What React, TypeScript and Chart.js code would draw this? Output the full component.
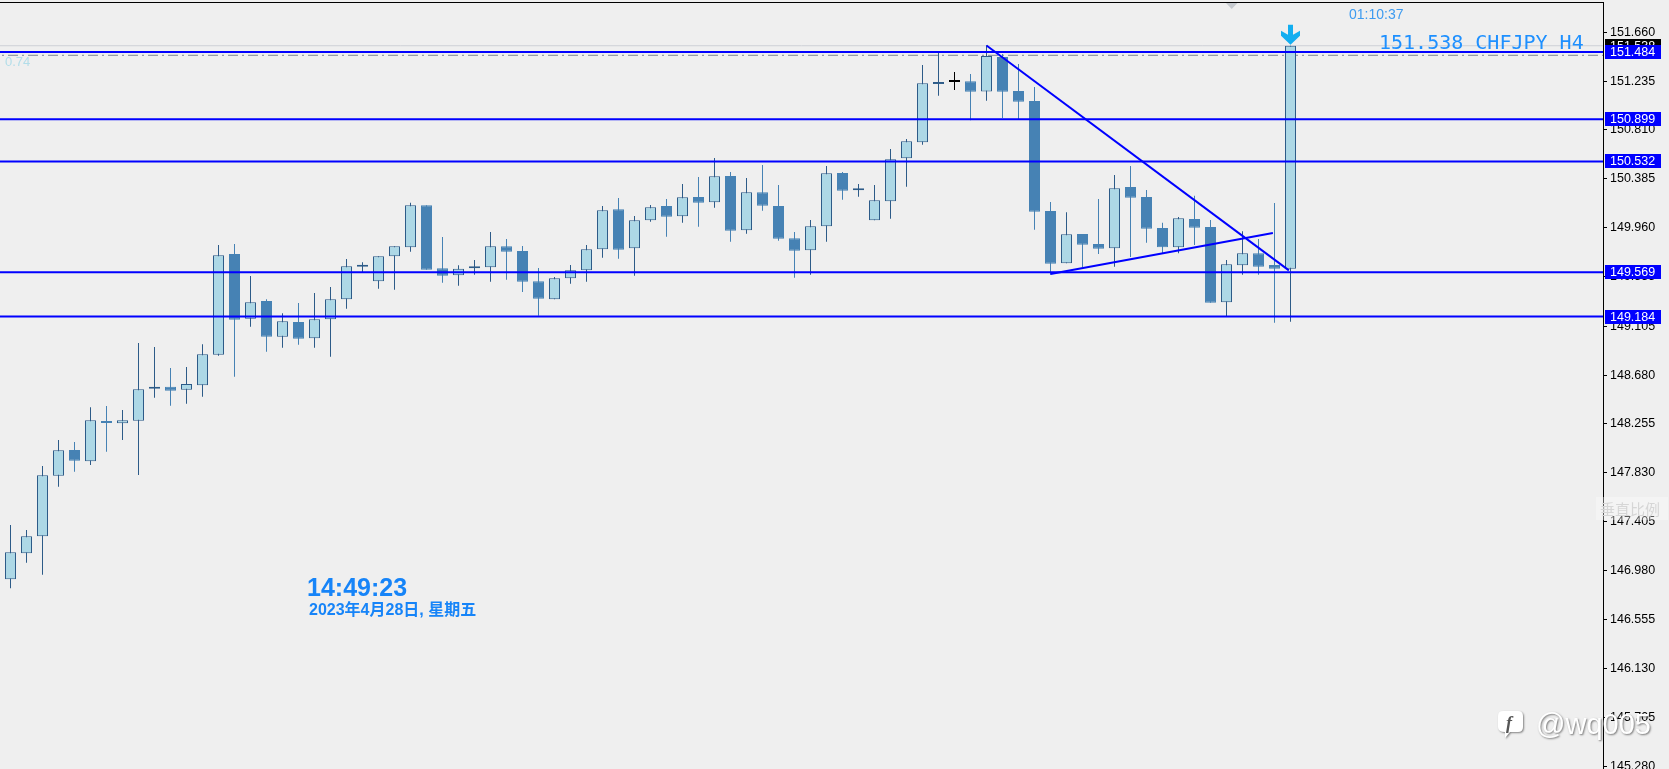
import { useEffect, useRef } from "react";
import { Chart, registerables } from "chart.js";

Chart.register(...registerables);

// ---------------- data (CHFJPY H4) ----------------
const opens = [
  146.900, 147.126, 147.274, 147.801, 148.024, 147.926, 148.276, 148.256, 148.279, 148.557,
  148.574, 148.548, 148.587, 148.853, 149.728, 149.165, 149.319, 149.009, 149.137, 148.995,
  149.160, 149.334, 149.617, 149.491, 149.708, 149.786, 150.151, 149.603, 149.543, 149.603,
  149.612, 149.795, 149.754, 149.491, 149.334, 149.517, 149.586, 149.769, 150.116, 149.777,
  150.021, 150.145, 150.055, 150.223, 150.177, 150.406, 149.934, 150.264, 150.145, 149.864,
  149.760, 149.969, 150.432, 150.281, 150.021, 150.186, 150.560, 150.699, 151.205, 151.223,
  151.229, 151.140, 151.440, 151.145, 151.058, 150.102, 149.647, 149.902, 149.815, 149.777,
  150.310, 150.223, 149.954, 149.786, 150.032, 149.962, 149.308, 149.630, 149.734, 149.632,
  149.600,
];
const highs = [
  147.372, 147.329, 147.885, 148.111, 148.094, 148.395, 148.407, 148.372, 148.954, 148.919,
  148.737, 148.746, 148.943, 149.806, 149.815, 149.537, 149.334, 149.212, 149.302, 149.389,
  149.441, 149.684, 149.656, 149.708, 149.795, 150.174, 150.151, 149.876, 149.630, 149.676,
  149.919, 149.858, 149.797, 149.606, 149.528, 149.632, 149.806, 150.145, 150.215, 150.058,
  150.154, 150.206, 150.336, 150.397, 150.562, 150.441, 150.388, 150.501, 150.328, 149.919,
  150.023, 150.493, 150.441, 150.336, 150.328, 150.640, 150.727, 151.371, 151.492, 151.310,
  151.292, 151.542, 151.466, 151.379, 151.179, 150.180, 150.090, 149.902, 150.206, 150.414,
  150.493, 150.284, 150.000, 150.049, 150.235, 150.023, 149.676, 149.925, 149.858, 150.171,
  151.538,
];
const lows = [
  146.822, 147.045, 146.940, 147.705, 147.836, 147.894, 148.009, 148.111, 147.807, 148.479,
  148.409, 148.427, 148.487, 148.844, 148.661, 149.096, 148.879, 148.913, 148.939, 148.913,
  148.835, 149.252, 149.569, 149.426, 149.417, 149.748, 149.591, 149.478, 149.452, 149.548,
  149.487, 149.504, 149.398, 149.191, 149.334, 149.470, 149.487, 149.696, 149.687, 149.539,
  150.009, 149.878, 150.000, 149.965, 150.130, 149.835, 149.904, 150.104, 149.843, 149.522,
  149.548, 149.835, 150.200, 150.226, 150.021, 150.035, 150.313, 150.678, 151.104, 151.153,
  150.890, 151.060, 150.910, 150.895, 149.939, 149.548, 149.647, 149.615, 149.728, 149.617,
  149.702, 149.826, 149.734, 149.734, 149.806, 149.304, 149.189, 149.548, 149.548, 149.131,
  149.139,
];
const closes = [
  147.135, 147.274, 147.804, 148.022, 147.931, 148.282, 148.259, 148.282, 148.552, 148.574,
  148.540, 148.598, 148.856, 149.717, 149.157, 149.308, 149.009, 149.143, 148.992, 149.160,
  149.334, 149.621, 149.635, 149.708, 149.795, 150.151, 149.591, 149.539, 149.600, 149.621,
  149.795, 149.748, 149.487, 149.339, 149.517, 149.586, 149.769, 150.108, 149.765, 150.021,
  150.134, 150.052, 150.221, 150.174, 150.403, 149.930, 150.264, 150.148, 149.861, 149.756,
  149.969, 150.429, 150.278, 150.299, 150.195, 150.551, 150.707, 151.211, 151.223, 151.240,
  151.138, 151.449, 151.138, 151.052, 150.095, 149.643, 149.899, 149.809, 149.774, 150.299,
  150.217, 149.948, 149.786, 150.038, 149.956, 149.304, 149.638, 149.734, 149.617, 149.600,
  151.538,
];
const levelPrices = [151.484, 150.899, 150.532, 149.569, 149.184];
const tickValues = [
  151.660, 151.235, 150.810, 150.385, 149.960, 149.535, 149.105, 148.680,
  148.255, 147.830, 147.405, 146.980, 146.555, 146.130, 145.705, 145.280,
];
const currentPrice = 151.538;
const dashDotPrice = 151.455;
const dashDotLabel = "0.74";
const crossCandle = 59;
const trendDownIdx = [61, 79.9];
const trendDownPrice = [151.540, 149.585];
const trendUpIdx = [65, 78.9];
const trendUpPrice = [149.554, 149.910];
const symbolText = "151.538 CHFJPY H4";
const timerText = "01:10:37";
const clockText = "14:49:23";
const dateText = "2023年4月28日, 星期五";
const scaleHint = "垂直比例";
const watermark = "@wq005";

// ---------------- layout / style ----------------
const W = 1669;
const H = 769;
const PLOT_RIGHT = 1603;
const SLOT = 16;
const FIRST_X = 10.5;
const X_MIN = -FIRST_X / SLOT;
const X_MAX = X_MIN + PLOT_RIGHT / SLOT;
const Y_MAX = 151.9355;
const Y_MIN = 145.2515;

const BG = "#efefef";
const BULL_FILL = "#add8e6";
const BULL_LINE = "#2d5b88";
const BEAR_FILL = "#4682b4";
const LEVEL = "#0000ff";
const AXIS_FONT = '12.5px "Liberation Sans", Arial, sans-serif';

const isBull = closes.map((c, i) => c >= opens[i]);
const bodyFill = closes.map((_, i) => (i === crossCandle ? "#000000" : isBull[i] ? BULL_FILL : BEAR_FILL));
const bodyLine = closes.map((_, i) => (i === crossCandle ? "#000000" : isBull[i] ? BULL_LINE : BEAR_FILL));
const wickColor = closes.map((_, i) => (i === crossCandle ? "#000000" : isBull[i] ? BULL_LINE : BEAR_FILL));

const hLine = (price: number) => [
  { x: X_MIN - 2, y: price },
  { x: X_MAX + 2, y: price },
];

const overlayPlugin = {
  id: "mt4Overlay",
  beforeDraw(chart: any) {
    const ctx = chart.ctx;
    ctx.save();
    ctx.fillStyle = BG;
    ctx.fillRect(0, 0, chart.width, chart.height);
    ctx.restore();
  },
  afterDraw(chart: any) {
    const ctx: CanvasRenderingContext2D = chart.ctx;
    const xs = chart.scales.x;
    const ys = chart.scales.y;
    ctx.save();

    // frame
    ctx.fillStyle = "#000";
    ctx.fillRect(0, 2, PLOT_RIGHT + 1, 1);
    ctx.fillRect(PLOT_RIGHT, 2, 1, H - 2);

    // ticks + labels
    ctx.font = AXIS_FONT;
    ctx.textBaseline = "middle";
    ctx.textAlign = "left";
    tickValues.forEach((v) => {
      const py = Math.round(ys.getPixelForValue(v));
      ctx.fillStyle = "#000";
      ctx.fillRect(PLOT_RIGHT + 1, py, 3, 1);
      ctx.fillText(v.toFixed(3), 1610, py + 0.5);
    });

    const box = (v: number, bg: string, fg: string) => {
      const py = ys.getPixelForValue(v);
      ctx.fillStyle = bg;
      ctx.fillRect(1605, Math.round(py - 7), 56, 14);
      ctx.fillStyle = fg;
      ctx.fillText(v.toFixed(3), 1610, py + 0.5);
    };
    box(currentPrice, "#000000", "#ffffff");
    levelPrices.forEach((v) => box(v, LEVEL, "#ffffff"));

    // dash-dot label
    ctx.font = '13px "Liberation Sans", Arial, sans-serif';
    ctx.fillStyle = "#b2dde9";
    ctx.textBaseline = "alphabetic";
    ctx.fillText(dashDotLabel, 5, ys.getPixelForValue(dashDotPrice) + 11);

    // chart-shift triangle
    ctx.fillStyle = "#c6cacf";
    ctx.beginPath();
    ctx.moveTo(1226, 3);
    ctx.lineTo(1237.5, 3);
    ctx.lineTo(1231.7, 9);
    ctx.closePath();
    ctx.fill();

    // timer
    ctx.font = '14px "Liberation Sans", Arial, sans-serif';
    ctx.fillStyle = "#3d9bf0";
    ctx.textBaseline = "middle";
    ctx.fillText(timerText, 1349, 15);

    // symbol text
    ctx.font = '20px "DejaVu Sans Mono", "Liberation Mono", monospace';
    ctx.fillStyle = "#1e90ff";
    ctx.textBaseline = "alphabetic";
    ctx.fillText(symbolText, 1379, 49);

    // arrow on last candle
    const last = opens.length - 1;
    const ax = xs.getPixelForValue(last);
    const ay = ys.getPixelForValue(highs[last]);
    ctx.fillStyle = "#12aef0";
    ctx.beginPath();
    ctx.moveTo(ax - 2.5, ay - 21);
    ctx.lineTo(ax + 2.5, ay - 21);
    ctx.lineTo(ax + 2.5, ay - 11);
    ctx.lineTo(ax + 9.5, ay - 15);
    ctx.lineTo(ax + 9.5, ay - 10);
    ctx.lineTo(ax, ay - 1);
    ctx.lineTo(ax - 9.5, ay - 10);
    ctx.lineTo(ax - 9.5, ay - 15);
    ctx.lineTo(ax - 2.5, ay - 11);
    ctx.closePath();
    ctx.fill();

    // clock
    ctx.fillStyle = "#1684f8";
    ctx.font = 'bold 25px "Liberation Sans", Arial, sans-serif';
    ctx.fillText(clockText, 307, 596);
    ctx.font = 'bold 16px "Liberation Sans", "Noto Sans CJK SC", sans-serif';
    ctx.fillText(dateText, 309, 615);

    // scale hint watermark
    ctx.fillStyle = "rgba(255,255,255,0.35)";
    ctx.fillRect(1596, 497, 72, 23);
    ctx.fillStyle = "#d6d6d6";
    ctx.font = '15px "Noto Sans CJK SC", sans-serif';
    ctx.textBaseline = "middle";
    ctx.fillText(scaleHint, 1600, 509);

    // @wq005 watermark
    ctx.shadowColor = "rgba(0,0,0,0.45)";
    ctx.shadowBlur = 2;
    ctx.shadowOffsetX = 1;
    ctx.shadowOffsetY = 1;
    ctx.fillStyle = "#ffffff";
    ctx.beginPath();
    ctx.moveTo(1503, 711);
    ctx.lineTo(1518, 711);
    ctx.quadraticCurveTo(1523, 711, 1523, 716);
    ctx.lineTo(1523, 727);
    ctx.quadraticCurveTo(1523, 732, 1518, 732);
    ctx.lineTo(1510, 732);
    ctx.lineTo(1505, 738);
    ctx.lineTo(1505, 732);
    ctx.quadraticCurveTo(1498, 732, 1498, 727);
    ctx.lineTo(1498, 716);
    ctx.quadraticCurveTo(1498, 711, 1503, 711);
    ctx.closePath();
    ctx.fill();
    ctx.shadowColor = "transparent";
    ctx.fillStyle = "#555";
    ctx.font = 'italic bold 18px "Liberation Serif", serif';
    ctx.textBaseline = "alphabetic";
    ctx.fillText("f", 1506, 729);
    ctx.shadowColor = "rgba(0,0,0,0.5)";
    ctx.fillStyle = "#ffffff";
    ctx.font = '29px "Liberation Sans", Arial, sans-serif';
    ctx.fillText(watermark, 1536, 734);

    ctx.restore();
  },
};

export default function App() {
  const ref = useRef<HTMLCanvasElement>(null);

  useEffect(() => {
    if (!ref.current) return;
    const bodies = opens.map((o, i) => ({ x: i, y: [o, closes[i]] }));
    const wicks = opens.map((_, i) => ({ x: i, y: [lows[i], highs[i]] }));
    const lineDs = (data: any[], color: string, width: number, order: number, dash: number[] = []) => ({
      type: "line" as const,
      data,
      borderColor: color,
      borderWidth: width,
      borderDash: dash,
      pointRadius: 0,
      fill: false,
      tension: 0,
      clip: 0,
      order,
    });

    const chart = new Chart(ref.current, {
      type: "bar",
      data: {
        datasets: [
          lineDs(hLine(currentPrice), "#cdd0d6", 1, 5),
          lineDs(hLine(dashDotPrice), "#7d8690", 1, 5, [10, 4, 2, 4]),
          ...levelPrices.map((p) => lineDs(hLine(p), LEVEL, 2, -1)),
          lineDs(trendDownIdx.map((x, k) => ({ x, y: trendDownPrice[k] })), LEVEL, 2, -1),
          lineDs(trendUpIdx.map((x, k) => ({ x, y: trendUpPrice[k] })), LEVEL, 2, -1),
          {
            type: "bar" as const,
            data: bodies as any,
            backgroundColor: bodyFill,
            borderColor: bodyLine,
            borderWidth: 1,
            borderSkipped: false,
            barThickness: 11,
            grouped: false,
            inflateAmount: 0,
            order: 0,
          },
          {
            type: "bar" as const,
            data: wicks as any,
            backgroundColor: wickColor,
            borderWidth: 0,
            barThickness: 1,
            grouped: false,
            inflateAmount: 0,
            order: 1,
          },
        ] as any,
      },
      options: {
        responsive: false,
        maintainAspectRatio: false,
        animation: false,
        events: [],
        devicePixelRatio: 1,
        layout: { padding: { left: 0, right: W - PLOT_RIGHT, top: 0, bottom: 0 } },
        plugins: { legend: { display: false }, tooltip: { enabled: false } },
        scales: {
          x: { type: "linear", display: false, min: X_MIN, max: X_MAX, offset: false },
          y: { type: "linear", display: false, min: Y_MIN, max: Y_MAX },
        },
      } as any,
      plugins: [overlayPlugin],
    });
    return () => chart.destroy();
  }, []);

  return (
    <div style={{ position: "fixed", left: 0, top: 0, width: W, height: H, background: BG }}>
      <canvas ref={ref} width={W} height={H} style={{ width: W, height: H, display: "block" }} />
    </div>
  );
}
